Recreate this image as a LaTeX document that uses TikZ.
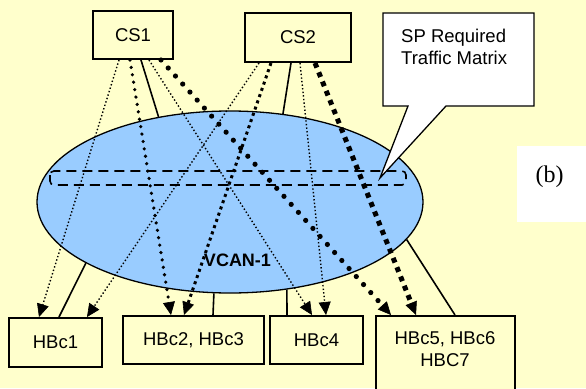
\documentclass[tikz,border=0pt]{standalone}
\usepackage{fontspec}
\setmainfont{Liberation Sans}
\newfontfamily\tmsfont{Liberation Serif}
\usetikzlibrary{shapes.geometric,arrows.meta}
\definecolor{bgyellow}{HTML}{FFFFCC}
\definecolor{vcanblue}{HTML}{99CCFF}
\begin{document}
\begin{tikzpicture}[x=1pt,y=-1pt,
    box/.style={draw,line width=2pt,fill=bgyellow,inner sep=0pt,font=\fontsize{18.5}{22}\selectfont},
    link/.style={line width=1.6pt},
    tip/.style={-{Triangle[length=13pt,width=12pt,line width=0.6pt]}},
    finedot/.style={tip,line width=1.4pt,dash pattern=on 1.4pt off 2.2pt},
    roundsmall/.style={tip,line width=3.6pt,line cap=round,dash pattern=on 0pt off 7.5pt},
    roundbig/.style={tip,line width=5.2pt,line cap=round,dash pattern=on 0pt off 10.8pt},
    squaresmall/.style={tip,line width=3pt,dash pattern=on 3pt off 3.6pt},
    squarebig/.style={tip,line width=5pt,dash pattern=on 5pt off 5pt}]
    	\fill[bgyellow] (0,0) rectangle (586,388);
    	\useasboundingbox (0,0) rectangle (586,388);
    	\fill[white] (517,146) rectangle (586,222);
    	\node[font=\tmsfont\fontsize{24}{28}\selectfont] (tag) at (549.5,176.5) {(b)};

    	\node[ellipse,draw,line width=1.3pt,fill=vcanblue,minimum width=386pt,minimum height=182pt,inner sep=0pt] (vcan) at (230,202) {};
    	\node[font=\fontsize{18}{22}\selectfont\bfseries] (vcanlbl) at (237.5,260.5) {VCAN-1};
    	\draw[line width=1.6pt,dash pattern=on 10pt off 6pt,rounded corners=4pt] (50,171) rectangle (406,185);

    	\node[box,minimum width=80pt,minimum height=48pt] (cs1) at (133,35) {CS1};
    	\node[box,minimum width=106pt,minimum height=49pt] (cs2) at (298,37.5) {CS2};

    	\node[box,minimum width=93pt,minimum height=49pt] (hb1) at (55.5,342.5) {HBc1};
    	\node[box,minimum width=141pt,minimum height=48pt] (hb23) at (193.5,340) {HBc2, HBc3};
    	\node[box,minimum width=93pt,minimum height=48pt] (hb4) at (316.5,340) {HBc4};
    	\node[box,minimum width=139pt,minimum height=90pt,anchor=north] (hb5) at (445.5,315) {};
    	\node[font=\fontsize{18.5}{22}\selectfont,align=center] (hb5txt) at (445,349) {HBc5, HBc6\\HBC7};

    	% solid links to the cloud
    	\draw[link] ([xshift=49pt]cs1.south west) -- (vcan.130);
    	\draw[link] ([xshift=47pt]cs2.south west) -- (vcan.59.5);
    	\draw[link] (vcan.203) -- ([xshift=51pt]hb1.north west);
    	\draw[link] (vcan.260) -- ([xshift=91pt]hb23.north west);
    	\draw[link] (vcan.303) -- ([xshift=18pt]hb4.north west);
    	\draw[link] (vcan.348.6) -- ([xshift=80pt]hb5.north west);

    	% traffic from CS1
    	\draw[finedot] ([xshift=27pt]cs1.south west) -- ([xshift=31pt]hb1.north west);
    	\draw[roundsmall] ([xshift=38pt]cs1.south west) -- ([xshift=49pt]hb23.north west);
    	\draw[finedot] ([xshift=57pt]cs1.south west) -- ([xshift=43pt]hb4.north west);
    	\draw[roundbig] ([xshift=69pt]cs1.south west) -- ([xshift=16pt]hb5.north west);

    	% traffic from CS2
    	\draw[finedot] ([xshift=15pt]cs2.south west) -- ([xshift=79pt]hb1.north west);
    	\draw[squaresmall] ([xshift=27pt]cs2.south west) -- ([xshift=62pt]hb23.north west);
    	\draw[finedot] ([xshift=56pt]cs2.south west) -- ([xshift=57pt]hb4.north west);
    	\draw[squarebig] ([xshift=71pt]cs2.south west) -- ([xshift=41pt]hb5.north west);

    	% callout
    	\draw[fill=white,line width=1.3pt] (383,13) -- (534,13) -- (534,106) -- (446,106) -- (380,178) -- (408,106) -- (383,106) -- cycle;
    	\node[anchor=north west,inner sep=0pt,align=left,font=\fontsize{18.5}{22}\selectfont] (sptext) at (401,29) {SP Required\\Traffic Matrix};
\end{tikzpicture}
\end{document}
